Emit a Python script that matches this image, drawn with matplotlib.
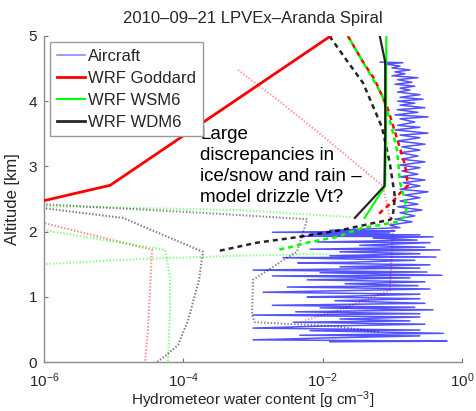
import numpy as np
import matplotlib
matplotlib.use("Agg")
import matplotlib.pyplot as plt
from matplotlib.lines import Line2D

plt.rcParams['font.family'] = ['Liberation Sans', 'DejaVu Sans']
plt.rcParams['mathtext.default'] = 'regular'

# ---------------- text ----------------
title = "2010\u201309\u201321 LPVEx\u2013Aranda Spiral"
xlabel = "Hydrometeor water content [g cm$^{-3}$]"
ylabel = "Altitude [km]"
note = "Large\ndiscrepancies in\nice/snow and rain \u2013\nmodel drizzle Vt?"
legend_labels = ["Aircraft", "WRF Goddard", "WRF WSM6", "WRF WDM6"]
xticks = [1e-6, 1e-4, 1e-2, 1e0]
yticks = [0, 1, 2, 3, 4, 5]

# ---------------- aircraft profile ----------------
aircraft_alt = [4.60, 4.59, 4.57, 4.54, 4.51, 4.48, 4.45, 4.42, 4.39, 4.36, 4.33, 4.29, 4.26, 4.23,
                4.20, 4.17, 4.14, 4.10, 4.06, 4.03, 4.00, 3.97, 3.94, 3.90, 3.87, 3.83, 3.79, 3.76,
                3.73, 3.68, 3.63, 3.60, 3.56, 3.51, 3.48, 3.44, 3.39, 3.34, 3.30, 3.25, 3.21, 3.16,
                3.11, 3.07, 3.02, 2.98, 2.93, 2.88, 2.84, 2.79, 2.75, 2.70, 2.65, 2.61, 2.56, 2.52,
                2.47, 2.42, 2.38, 2.33, 2.29, 2.24, 2.19, 2.15, 2.10, 2.06, 2.02, 2.01, 1.99, 1.98,
                1.96, 1.95,
                1.93, 1.92, 1.90, 1.87, 1.84, 1.83, 1.79, 1.76, 1.73, 1.72, 1.69, 1.66, 1.63, 1.61,
                1.60, 1.56, 1.53, 1.52, 1.49, 1.46, 1.44, 1.41, 1.38, 1.37, 1.33, 1.32, 1.29, 1.26,
                1.23, 1.20, 1.17, 1.15, 1.12, 1.09, 1.07, 1.04, 1.01, 1.00, 0.97, 0.94, 0.90, 0.87,
                0.84, 0.83, 0.80, 0.77, 0.74, 0.72, 0.69, 0.66, 0.63, 0.61, 0.58, 0.55, 0.52, 0.49,
                0.48, 0.44, 0.41, 0.40, 0.37, 0.34, 0.32, 0.31]
aircraft_val = [0.067, 0.142, 0.078, 0.129, 0.099, 0.179, 0.109, 0.152, 0.099, 0.233, 0.119, 0.191, 0.109, 0.21,
                0.129, 0.179, 0.119, 0.249, 0.129, 0.276, 0.119, 0.21, 0.129, 0.294, 0.117, 0.233, 0.109, 0.325,
                0.129, 0.21, 0.119, 0.249, 0.109, 0.325, 0.129, 0.249, 0.119, 0.294, 0.137, 0.249, 0.129, 0.233,
                0.137, 0.294, 0.129, 0.249, 0.137, 0.233, 0.129, 0.294, 0.142, 0.249, 0.129, 0.325, 0.152, 0.249,
                0.129, 0.233, 0.119, 0.267, 0.129, 0.21, 0.109, 0.191, 0.092, 0.129, 0.0127, 0.109, 0.0019, 0.092,
                0.0066, 0.249,
                0.0047, 0.384, 0.053, 0.226, 0.0083, 0.347, 0.034, 0.294, 0.0066, 0.483, 0.0177, 0.249, 0.0127, 0.424,
                0.0027, 0.21, 0.0247, 0.0044, 0.347, 0.0177, 0.249, 0.0010, 0.314, 0.0092, 0.516, 0.0019, 0.179, 0.006,
                0.294, 0.021, 0.233, 0.0031, 0.347, 0.0127, 0.0014, 0.249, 0.0247, 0.006, 0.249, 0.015, 0.294, 0.0019,
                0.21, 0.0092, 0.384, 0.0041, 0.249, 0.0010, 0.249, 0.0177, 0.179, 0.0038, 0.294, 0.0092, 0.0010, 0.249,
                0.0066, 0.54, 0.0047, 0.249, 0.0127, 0.0010, 0.61, 0.0127]

# ---------------- model profiles: solid ----------------
goddard_solid_alt = [2.40, 2.71, 5.0]
goddard_solid_val = [5.0e-7, 8.9e-6, 0.013]
wsm6_solid_alt = [5.0, 3.5, 2.70, 2.21]
wsm6_solid_val = [0.082, 0.081, 0.079, 0.040]
wdm6_solid_alt = [5.0, 4.6, 3.5, 2.70, 2.21]
wdm6_solid_val = [0.066, 0.079, 0.079, 0.077, 0.029]

# ---------------- model profiles: dashed ----------------
goddard_dash_alt = [5.0, 4.60, 4.33, 3.87, 3.40, 3.02, 2.71, 2.59, 2.45, 2.33, 2.24]
goddard_dash_val = [0.023, 0.038, 0.056, 0.087, 0.119, 0.152, 0.168, 0.129, 0.099, 0.073, 0.060]
wsm6_dash_alt = [5.0, 4.60, 4.10, 3.71, 3.25, 2.75, 2.48, 2.25, 2.15, 2.10, 2.06, 1.92, 1.83, 1.76, 1.72]
wsm6_dash_val = [0.023, 0.038, 0.071, 0.092, 0.117, 0.129, 0.152, 0.162, 0.117, 0.0665, 0.038, 0.0161,
                 0.006, 0.0034, 0.0023]
wdm6_dash_alt = [5.0, 4.66, 4.28, 3.60, 3.05, 2.53, 2.22, 2.18, 2.13, 2.02, 1.92, 1.83, 1.70]
wdm6_dash_val = [0.0125, 0.021, 0.038, 0.071, 0.092, 0.109, 0.101, 0.092, 0.053, 0.0177, 0.0047,
                 0.00114, 0.00031]

# ---------------- model profiles: dotted ----------------
goddard_dot1_alt = [4.48, 4.00, 3.40, 2.70, 2.02, 1.10, 0.80, 0.64]
goddard_dot1_val = [6.1e-4, 0.0024, 0.0119, 0.073, 0.101, 0.092, 0.0177, 0.0056]
goddard_dot2_alt = [2.30, 1.72, 1.10, 0.49, 0.0]
goddard_dot2_val = [2.3e-7, 3.55e-5, 3.32e-5, 3.1e-5, 2.82e-5]
wsm6_dot1_alt = [2.41, 2.39, 2.33, 2.22]
wsm6_dot1_val = [2.3e-7, 9.7e-7, 6.5e-4, 0.0264]
wsm6_dot2_alt = [2.13, 1.72, 1.30, 0.80, 0.0]
wsm6_dot2_val = [2.4e-7, 5.46e-5, 6.44e-5, 6.44e-5, 6.0e-5]
wsm6_dot3_alt = [1.47, 1.50, 1.58, 1.63, 1.66]
wsm6_dot3_val = [2.3e-7, 9.7e-7, 2.39e-5, 6.5e-4, 0.0127]
wdm6_dot1_alt = [2.44, 2.36, 2.21, 1.69, 1.26, 0.64, 0.26, 0.09, 0.0]
wdm6_dot1_val = [2.3e-7, 9.7e-7, 1.36e-5, 1.91e-4, 1.68e-4, 1.17e-4, 8.4e-5, 5.46e-5, 4.19e-5]
wdm6_dot2_alt = [2.45, 2.42, 2.29, 2.19, 2.09, 1.69, 1.60, 1.26, 0.72, 0.61, 0.55, 0.46]
wdm6_dot2_val = [2.3e-7, 9.7e-7, 1.73e-4, 0.006, 0.0056, 0.00428, 0.00308, 0.001, 0.00097, 0.00106,
                 0.0141, 0.0665]

RED = (1.0, 0.0, 0.0)
GREEN = (0.0, 1.0, 0.0)
BLACK = (0.0, 0.0, 0.0)
BLUE = (0.0, 0.0, 1.0)

fig = plt.figure(figsize=(4.76, 4.11), dpi=100)
ax = fig.add_axes([44 / 476, (411 - 362) / 411, 418 / 476, 326 / 411])
ax.set_xscale('log')

for a, v, c, al in [(goddard_dot1_alt, goddard_dot1_val, RED, 0.4),
                    (goddard_dot2_alt, goddard_dot2_val, RED, 0.45),
                    (wsm6_dot1_alt, wsm6_dot1_val, GREEN, 0.45),
                    (wsm6_dot2_alt, wsm6_dot2_val, GREEN, 0.5),
                    (wsm6_dot3_alt, wsm6_dot3_val, GREEN, 0.45),
                    (wdm6_dot1_alt, wdm6_dot1_val, BLACK, 0.5),
                    (wdm6_dot2_alt, wdm6_dot2_val, BLACK, 0.45)]:
    ax.plot(v, a, color=c, lw=1.5, alpha=al, zorder=2, dashes=(0.7, 0.9),
            solid_capstyle='butt', dash_capstyle='butt')

ax.plot(aircraft_val, aircraft_alt, color=BLUE, lw=1.1, alpha=0.68, zorder=3)

ax.plot(goddard_dash_val, goddard_dash_alt, color=RED, lw=1.8, dashes=(2, 1.6), zorder=4)
ax.plot(wsm6_dash_val, wsm6_dash_alt, color=GREEN, lw=1.8, linestyle=(1.8, (2, 1.6)), zorder=4)
ax.plot(wdm6_dash_val, wdm6_dash_alt, color=BLACK, lw=1.8, dashes=(2, 1.6), alpha=0.85, zorder=4)

ax.plot(goddard_solid_val, goddard_solid_alt, color=RED, lw=2.0, zorder=4)
ax.plot(wsm6_solid_val, wsm6_solid_alt, color=GREEN, lw=1.5, zorder=4)
ax.plot(wdm6_solid_val, wdm6_solid_alt, color=BLACK, lw=1.6, alpha=0.85, zorder=4)

ax.set_xlim(1e-6, 1)
ax.set_ylim(0, 5)
ax.set_xticks(xticks)
ax.set_yticks(yticks)
ax.xaxis.set_minor_locator(matplotlib.ticker.NullLocator())
for s in ['top', 'right']:
    ax.spines[s].set_visible(False)
for s in ['left', 'bottom']:
    ax.spines[s].set_color('0.55')
    ax.spines[s].set_linewidth(1.0)
ax.tick_params(direction='in', length=3, width=0.8, color='0.45', labelsize=11,
               labelcolor='0.15')
ax.tick_params(axis='y', pad=5)
ax.tick_params(axis='x', pad=7)

ax.set_title(title, fontsize=12, color='0.15', pad=9)
ax.set_xlabel(xlabel, fontsize=11, color='0.15')
ax.xaxis.set_label_coords(0.5, -(389 - 362) / 326)
ax.set_ylabel(ylabel, fontsize=12, color='0.15', labelpad=6)

ax.text((200 - 44) / 418, (362 - 126) / 326, note, transform=ax.transAxes, fontsize=13.5,
        ha='left', va='top', linespacing=1.3, color='black', zorder=6)

handles = [Line2D([], [], color=BLUE, lw=1.1, alpha=0.5),
           Line2D([], [], color=RED, lw=2.0),
           Line2D([], [], color=GREEN, lw=1.5),
           Line2D([], [], color=BLACK, lw=2.0, alpha=0.85)]
leg = ax.legend(handles, legend_labels, loc='upper left', bbox_to_anchor=(50 / 476, 1 - 42 / 411),
                bbox_transform=fig.transFigure, fontsize=12, frameon=True, fancybox=False,
                edgecolor='0.6', framealpha=1, borderpad=0.4, handlelength=1.7,
                handletextpad=0.2, labelspacing=0.42, borderaxespad=0)
leg.get_frame().set_linewidth(1.0)
leg.set_zorder(7)
for t in leg.get_texts():
    t.set_color('0.15')

fig.savefig("out.png", dpi=100)
